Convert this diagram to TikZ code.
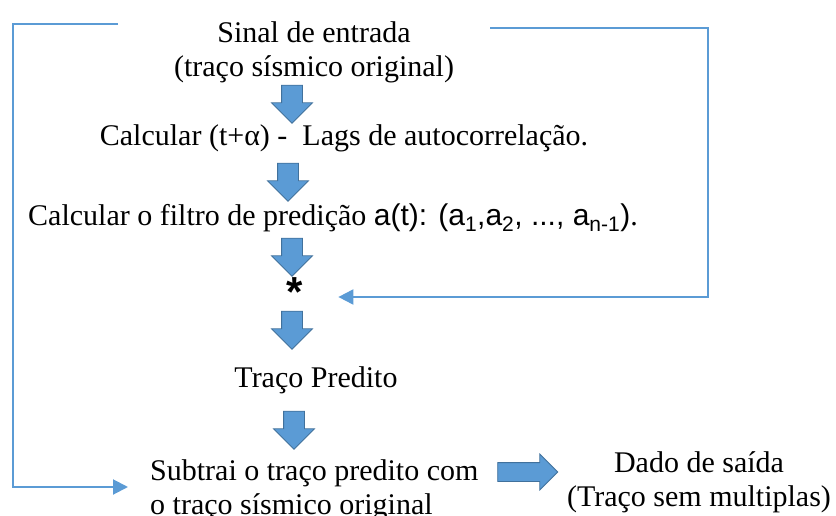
\documentclass[tikz,border=0pt]{standalone}
\usepackage{fontspec}
\setmainfont{Liberation Serif}
\newfontfamily\arialfont{Liberation Sans}
\usetikzlibrary{shapes.arrows,arrows.meta}

\definecolor{blkfill}{HTML}{5B9BD5}
\definecolor{blkdraw}{HTML}{41719C}

\tikzset{
  txt/.style={inner sep=0pt, align=center, font=\fontsize{30}{34}\selectfont},
  blockdown/.style={single arrow, fill=blkfill, draw=blkdraw, line width=0.8pt,
    shape border rotate=270, inner sep=10pt, minimum height=38pt,
    minimum width=40pt, single arrow head extend=10pt},
  feedback/.style={draw=blkfill, line width=2pt,
    -{Triangle[length=15pt,width=15pt]}}
}

\begin{document}
\begin{tikzpicture}[x=1pt,y=-1pt]
    \useasboundingbox (0,0) rectangle (836,516);

    % Steps of the prediction
    \node[txt] (input) at (314,52) {Sinal de entrada\\(traço sísmico original)};
    \node[txt] (lags) at (344,138) {Calcular (t+α) -\ \ Lags de autocorrelação.};
    \node[txt] (filtro) at (333,218) {Calcular o filtro de predição
      {\arialfont a(t): (a\textsubscript{1},a\textsubscript{2}, ..., a\textsubscript{n-1})}.};
    \node[txt, font=\fontsize{42}{42}\arialfont\bfseries] (conv) at (295,292) {*};
    \node[txt] (pred) at (316,380) {Traço Predito};
    \node[txt, align=left, anchor=west] (sub) at (150,490) {Subtrai o traço predito com\\o traço sísmico original};
    \node[txt] (out) at (699,482) {Dado de saída\\(Traço sem multiplas)};

    % Block arrows between the steps
    \node[blockdown] (a1) at (292,99) {};
    \node[blockdown] (a2) at (288,177) {};
    \node[blockdown] (a3) at (292,252) {};
    \node[blockdown] (a4) at (292,325) {};
    \node[blockdown] (a5) at (294,425) {};
    \node[blockdown, shape border rotate=0, minimum height=60pt, minimum width=35pt,
      inner sep=9pt, single arrow head extend=8.5pt] (aout) at (523,472) {};

    % Feedback lines of the original trace
    \coordinate (fbR) at (490,28);
    \coordinate (fbL) at (118,24);
    \draw[feedback] (fbR) -- (708,28) |- ([xshift=35pt,yshift=-5pt]conv.east);
    \draw[feedback] (fbL) -- (13,24) |- ([xshift=-22pt,yshift=3pt]sub.west);

\end{tikzpicture}
\end{document}
